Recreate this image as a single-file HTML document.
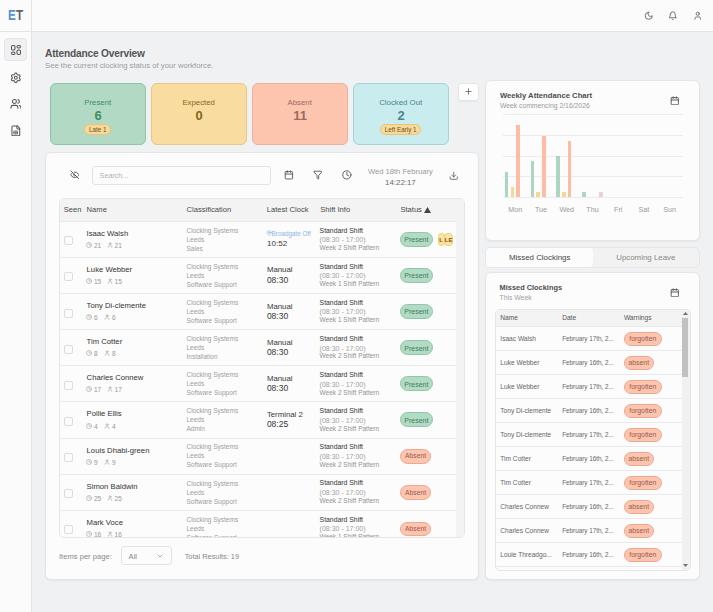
<!DOCTYPE html>
<html><head><meta charset="utf-8"><style>
html,body{margin:0;padding:0;}
body{width:713px;height:612px;overflow:hidden;position:relative;background:#f0f1f3;font-family:"Liberation Sans", sans-serif;}
</style></head><body>
<div style="position:absolute;left:0.00px;top:0.00px;width:713.00px;height:31.00px;background:#fbfbfb;border-bottom:1px solid #e4e4e4;"></div>
<div style="position:absolute;left:0.00px;top:0.00px;width:31.00px;height:612.00px;background:#fbfbfb;border-right:1px solid #e4e4e4;"></div>
<div style="position:absolute;left:0.00px;top:0.00px;width:31.00px;height:31.00px;background:#fbfbfb;border-bottom:1px solid #e4e4e4;border-right:1px solid #e4e4e4;"></div>
<div style="position:absolute;left:8.20px;top:8.24px;font-size:14.6px;line-height:14.6px;font-weight:700;color:#444;letter-spacing:0.3px;white-space:nowrap;"><span style="display:inline-block;transform:scaleX(0.80);transform-origin:0 0"><span style="color:#5690d4">E</span><span style="color:#626262">T</span></span></div>
<div style="position:absolute;left:4.30px;top:38.20px;width:22.40px;height:23.20px;box-sizing:border-box;background:#eff0f2;border:1px solid #e3e4e6;border-radius:4px;"></div>
<svg style="position:absolute;left:9.80px;top:44.00px" width="12" height="12" viewBox="0 0 24 24" fill="none" stroke="#555" stroke-width="2.1" stroke-linecap="round" stroke-linejoin="round"><rect width="7" height="9" x="3" y="3" rx="2.5"/><rect width="7" height="5" x="14" y="3" rx="2.5"/><rect width="7" height="9" x="14" y="12" rx="2.5"/><rect width="7" height="5" x="3" y="16" rx="2.5"/></svg>
<svg style="position:absolute;left:9.70px;top:71.60px" width="11.6" height="11.6" viewBox="0 0 24 24" fill="none" stroke="#555" stroke-width="2.1" stroke-linecap="round" stroke-linejoin="round"><path d="M9.671 4.136a2.34 2.34 0 0 1 4.659 0 2.34 2.34 0 0 0 3.319 1.915 2.34 2.34 0 0 1 2.33 4.033 2.34 2.34 0 0 0 0 3.831 2.34 2.34 0 0 1-2.33 4.033 2.34 2.34 0 0 0-3.319 1.915 2.34 2.34 0 0 1-4.659 0 2.34 2.34 0 0 0-3.32-1.915 2.34 2.34 0 0 1-2.33-4.033 2.34 2.34 0 0 0 0-3.831A2.34 2.34 0 0 1 6.35 6.051a2.34 2.34 0 0 0 3.319-1.915"/><circle cx="12" cy="12" r="3"/></svg>
<svg style="position:absolute;left:9.60px;top:98.00px" width="11.8" height="11.8" viewBox="0 0 24 24" fill="none" stroke="#555" stroke-width="2.1" stroke-linecap="round" stroke-linejoin="round"><path d="M16 21v-2a4 4 0 0 0-4-4H6a4 4 0 0 0-4 4v2"/><circle cx="9" cy="7" r="4"/><path d="M22 21v-2a4 4 0 0 0-3-3.87"/><path d="M16 3.13a4 4 0 0 1 0 7.75"/></svg>
<svg style="position:absolute;left:9.70px;top:124.60px" width="11.7" height="11.7" viewBox="0 0 24 24" fill="none" stroke="#555" stroke-width="2.1" stroke-linecap="round" stroke-linejoin="round"><path d="M15 2H6a2 2 0 0 0-2 2v16a2 2 0 0 0 2 2h12a2 2 0 0 0 2-2V7Z"/><path d="M14 2v4a2 2 0 0 0 2 2h4"/><path d="M8.5 12.5h7v6h-7z" stroke-width="1.4"/><path d="M12 12.5v6M8.5 15.5h7" stroke-width="1.4"/></svg>
<svg style="position:absolute;left:643.65px;top:10.95px" width="9.5" height="9.5" viewBox="0 0 24 24" fill="none" stroke="#555" stroke-width="2" stroke-linecap="round" stroke-linejoin="round"><path d="M12 3a6 6 0 0 0 9 9 9 9 0 1 1-9-9Z"/></svg>
<svg style="position:absolute;left:668.25px;top:10.95px" width="9.5" height="9.5" viewBox="0 0 24 24" fill="none" stroke="#555" stroke-width="2" stroke-linecap="round" stroke-linejoin="round"><path d="M6 8a6 6 0 0 1 12 0c0 7 3 9 3 9H3s3-2 3-9"/><path d="M10.3 21a1.94 1.94 0 0 0 3.4 0"/></svg>
<svg style="position:absolute;left:692.55px;top:10.95px" width="9.5" height="9.5" viewBox="0 0 24 24" fill="none" stroke="#555" stroke-width="2" stroke-linecap="round" stroke-linejoin="round"><path d="M19 21v-2a4 4 0 0 0-4-4H9a4 4 0 0 0-4 4v2"/><circle cx="12" cy="7" r="4"/></svg>
<div style="position:absolute;left:45.00px;top:48.57px;font-size:10.2px;line-height:10.2px;font-weight:700;color:#555;letter-spacing:-0.2px;white-space:nowrap;">Attendance Overview</div>
<div style="position:absolute;left:45.00px;top:62.48px;font-size:7.7px;line-height:7.7px;font-weight:400;color:#9d9d9d;letter-spacing:0px;white-space:nowrap;">See the current clocking status of your workforce.</div>
<div style="position:absolute;left:50.00px;top:83.00px;width:96.00px;height:62.00px;box-sizing:border-box;background:#b2d9c4;border:1px solid #8cc6a6;border-radius:6px;"></div>
<div style="position:absolute;left:-52.30px;width:300px;text-align:center;top:98.70px;font-size:7.8px;line-height:7.8px;font-weight:400;color:#3f8d64;letter-spacing:0px;white-space:nowrap;">Present</div>
<div style="position:absolute;left:-52.30px;width:300px;text-align:center;top:109.94px;font-size:12px;line-height:12px;font-weight:700;color:#3f8d64;letter-spacing:0px;white-space:nowrap;transform:scaleX(1.08);">6</div>
<div style="position:absolute;left:84.20px;top:123.60px;width:27.00px;height:11.80px;box-sizing:border-box;background:#f7d99b;border:1px solid #e9c57a;border-radius:6px;"></div>
<div style="position:absolute;left:-52.30px;width:300px;text-align:center;top:126.67px;font-size:6.3px;line-height:6.3px;font-weight:400;color:#6e5417;letter-spacing:0px;white-space:nowrap;">Late 1</div>
<div style="position:absolute;left:151.00px;top:83.00px;width:96.00px;height:62.00px;box-sizing:border-box;background:#f8dca0;border:1px solid #e8c982;border-radius:6px;"></div>
<div style="position:absolute;left:48.70px;width:300px;text-align:center;top:98.70px;font-size:7.8px;line-height:7.8px;font-weight:400;color:#86661a;letter-spacing:0px;white-space:nowrap;">Expected</div>
<div style="position:absolute;left:48.70px;width:300px;text-align:center;top:109.94px;font-size:12px;line-height:12px;font-weight:700;color:#86661a;letter-spacing:0px;white-space:nowrap;transform:scaleX(1.08);">0</div>
<div style="position:absolute;left:252.00px;top:83.00px;width:96.00px;height:62.00px;box-sizing:border-box;background:#fdc4ae;border:1px solid #ecb09b;border-radius:6px;"></div>
<div style="position:absolute;left:149.70px;width:300px;text-align:center;top:98.70px;font-size:7.8px;line-height:7.8px;font-weight:400;color:#a06a5e;letter-spacing:0px;white-space:nowrap;">Absent</div>
<div style="position:absolute;left:149.70px;width:300px;text-align:center;top:109.94px;font-size:12px;line-height:12px;font-weight:700;color:#a06a5e;letter-spacing:0px;white-space:nowrap;transform:scaleX(1.08);">11</div>
<div style="position:absolute;left:353.00px;top:83.00px;width:96.00px;height:62.00px;box-sizing:border-box;background:#c9ecef;border:1px solid #a2d3d7;border-radius:6px;"></div>
<div style="position:absolute;left:250.70px;width:300px;text-align:center;top:98.70px;font-size:7.8px;line-height:7.8px;font-weight:400;color:#4a878c;letter-spacing:0px;white-space:nowrap;">Clocked Out</div>
<div style="position:absolute;left:250.70px;width:300px;text-align:center;top:109.94px;font-size:12px;line-height:12px;font-weight:700;color:#4a878c;letter-spacing:0px;white-space:nowrap;transform:scaleX(1.08);">2</div>
<div style="position:absolute;left:379.90px;top:123.60px;width:41.60px;height:11.80px;box-sizing:border-box;background:#f7d99b;border:1px solid #e9c57a;border-radius:6px;"></div>
<div style="position:absolute;left:250.70px;width:300px;text-align:center;top:126.67px;font-size:6.3px;line-height:6.3px;font-weight:400;color:#6e5417;letter-spacing:0px;white-space:nowrap;">Left Early 1</div>
<div style="position:absolute;left:458.00px;top:83.00px;width:21.00px;height:18.00px;box-sizing:border-box;background:#fdfdfd;border:1px solid #e6e6e6;border-radius:3px;box-shadow:0 1px 1px rgba(0,0,0,.04);"></div>
<svg style="position:absolute;left:464.00px;top:87.40px" width="9" height="9" viewBox="0 0 24 24" fill="none" stroke="#555" stroke-width="2" stroke-linecap="round" stroke-linejoin="round"><path d="M5 12h14"/><path d="M12 5v14"/></svg>
<div style="position:absolute;left:45.00px;top:152.00px;width:434.00px;height:428.00px;box-sizing:border-box;background:#fcfcfc;border:1px solid #e5e5e5;border-radius:6px;box-shadow:0 1px 2px rgba(0,0,0,.05);"></div>
<svg style="position:absolute;left:69.70px;top:170.20px" width="9.6" height="9.6" viewBox="0 0 24 24" fill="none" stroke="#555" stroke-width="2.2" stroke-linecap="round" stroke-linejoin="round"><path d="M10.733 5.076a10.744 10.744 0 0 1 11.205 6.575 1 1 0 0 1 0 .696 10.747 10.747 0 0 1-1.444 2.49"/><path d="M14.084 14.158a3 3 0 0 1-4.242-4.242"/><path d="M17.479 17.499a10.75 10.75 0 0 1-15.417-5.151 1 1 0 0 1 0-.696 10.75 10.75 0 0 1 4.446-5.143"/><path d="m2 2 20 20"/></svg>
<div style="position:absolute;left:92.00px;top:166.00px;width:179.00px;height:19.00px;box-sizing:border-box;background:#fcfcfc;border:1px solid #e3e3e3;border-radius:3px;"></div>
<div style="position:absolute;left:99.60px;top:172.21px;font-size:7.2px;line-height:7.2px;font-weight:400;color:#b0b0b0;letter-spacing:0px;white-space:nowrap;">Search...</div>
<svg style="position:absolute;left:283.80px;top:170.30px" width="9.8" height="9.8" viewBox="0 0 24 24" fill="none" stroke="#555" stroke-width="2.2" stroke-linecap="round" stroke-linejoin="round"><rect width="18" height="18" x="3" y="4" rx="2" ry="2"/><line x1="16" x2="16" y1="2" y2="6"/><line x1="8" x2="8" y1="2" y2="6"/><line x1="3" x2="21" y1="10" y2="10"/></svg>
<svg style="position:absolute;left:312.50px;top:170.30px" width="9.8" height="9.8" viewBox="0 0 24 24" fill="none" stroke="#555" stroke-width="2.2" stroke-linecap="round" stroke-linejoin="round"><path d="M10 20a1 1 0 0 0 .553.895l2 1A1 1 0 0 0 14 21v-7a2 2 0 0 1 .517-1.341L21.74 4.67A1 1 0 0 0 21 3H3a1 1 0 0 0-.742 1.67l7.225 7.989A2 2 0 0 1 10 14z"/></svg>
<svg style="position:absolute;left:341.90px;top:170.30px" width="9.8" height="9.8" viewBox="0 0 24 24" fill="none" stroke="#555" stroke-width="2.2" stroke-linecap="round" stroke-linejoin="round"><circle cx="12" cy="12" r="10"/><polyline points="12 6 12 12 16 14"/></svg>
<div style="position:absolute;left:250.40px;width:300px;text-align:center;top:168.27px;font-size:7.6px;line-height:7.6px;font-weight:400;color:#999;letter-spacing:0px;white-space:nowrap;">Wed 18th February</div>
<div style="position:absolute;left:250.40px;width:300px;text-align:center;top:178.71px;font-size:7.9px;line-height:7.9px;font-weight:400;color:#6a6a6a;letter-spacing:0px;white-space:nowrap;">14:22:17</div>
<svg style="position:absolute;left:448.75px;top:170.55px" width="9.5" height="9.5" viewBox="0 0 24 24" fill="none" stroke="#555" stroke-width="2" stroke-linecap="round" stroke-linejoin="round"><path d="M21 15v4a2 2 0 0 1-2 2H5a2 2 0 0 1-2-2v-4"/><polyline points="7 10 12 15 17 10"/><line x1="12" x2="12" y1="15" y2="3"/></svg>
<div style="position:absolute;left:59px;top:198px;width:406px;height:340px;box-sizing:border-box;border:1px solid #e6e6e6;border-radius:5px;overflow:hidden;background:#fcfcfc;">
<div style="position:absolute;left:-1.00px;top:-1.00px;width:470.00px;height:23.00px;background:#f3f3f3;"></div>
<div style="position:absolute;left:-1.00px;top:22.00px;width:397.00px;height:1.00px;background:#e8e8e8;"></div>
<div style="position:absolute;left:3.80px;top:7.45px;font-size:7.5px;line-height:7.5px;font-weight:400;color:#4a4a4a;letter-spacing:0px;white-space:nowrap;">Seen</div>
<div style="position:absolute;left:26.60px;top:7.37px;font-size:7.6px;line-height:7.6px;font-weight:400;color:#4a4a4a;letter-spacing:0px;white-space:nowrap;">Name</div>
<div style="position:absolute;left:126.50px;top:7.37px;font-size:7.6px;line-height:7.6px;font-weight:400;color:#4a4a4a;letter-spacing:0px;white-space:nowrap;">Classification</div>
<div style="position:absolute;left:206.80px;top:7.37px;font-size:7.6px;line-height:7.6px;font-weight:400;color:#4a4a4a;letter-spacing:0px;white-space:nowrap;">Latest Clock</div>
<div style="position:absolute;left:260.20px;top:7.37px;font-size:7.6px;line-height:7.6px;font-weight:400;color:#4a4a4a;letter-spacing:0px;white-space:nowrap;">Shift Info</div>
<div style="position:absolute;left:340.40px;top:7.37px;font-size:7.6px;line-height:7.6px;font-weight:400;color:#4a4a4a;letter-spacing:0px;white-space:nowrap;">Status</div>
<svg style="position:absolute;left:363.8px;top:7.5px" width="7" height="6" viewBox="0 0 7 6"><polygon points="3.5,0 7,6 0,6" fill="#444"/></svg>
<div style="position:absolute;left:-1.00px;top:58.00px;width:397.00px;height:1.00px;background:#e9e9e9;"></div>
<div style="position:absolute;left:4.20px;top:37.30px;width:9.00px;height:9.00px;box-sizing:border-box;border:1px solid #dcdcdc;border-radius:2px;background:#fcfcfc;"></div>
<div style="position:absolute;left:26.60px;top:30.68px;font-size:7.7px;line-height:7.7px;font-weight:400;color:#333;letter-spacing:0px;white-space:nowrap;">Isaac Walsh</div>
<svg style="position:absolute;left:26.20px;top:42.90px" width="6" height="6" viewBox="0 0 24 24" fill="none" stroke="#999" stroke-width="2.2" stroke-linecap="round" stroke-linejoin="round"><circle cx="12" cy="12" r="10"/><polyline points="12 6 12 12 16 14"/></svg>
<div style="position:absolute;left:33.90px;top:43.81px;font-size:6.6px;line-height:6.6px;font-weight:400;color:#999;letter-spacing:0px;white-space:nowrap;">21</div>
<svg style="position:absolute;left:46.80px;top:42.90px" width="6" height="6" viewBox="0 0 24 24" fill="none" stroke="#999" stroke-width="2.2" stroke-linecap="round" stroke-linejoin="round"><path d="M19 21v-2a4 4 0 0 0-4-4H9a4 4 0 0 0-4 4v2"/><circle cx="12" cy="7" r="4"/></svg>
<div style="position:absolute;left:54.50px;top:43.81px;font-size:6.6px;line-height:6.6px;font-weight:400;color:#999;letter-spacing:0px;white-space:nowrap;">21</div>
<div style="position:absolute;left:126.50px;top:28.60px;font-size:6.5px;line-height:6.5px;font-weight:400;color:#9c9c9c;letter-spacing:0px;white-space:nowrap;">Clocking Systems</div>
<div style="position:absolute;left:126.50px;top:37.60px;font-size:6.5px;line-height:6.5px;font-weight:400;color:#9c9c9c;letter-spacing:0px;white-space:nowrap;">Leeds</div>
<div style="position:absolute;left:126.50px;top:46.60px;font-size:6.5px;line-height:6.5px;font-weight:400;color:#9c9c9c;letter-spacing:0px;white-space:nowrap;">Sales</div>
<svg style="position:absolute;left:206.30px;top:31.40px" width="6.2" height="6.2" viewBox="0 0 24 24" fill="none" stroke="#8db5e6" stroke-width="2.2" stroke-linecap="round" stroke-linejoin="round"><path d="M20 10c0 6-8 12-8 12s-8-6-8-12a8 8 0 0 1 16 0Z"/><circle cx="12" cy="10" r="3"/></svg>
<div style="position:absolute;left:211.60px;top:31.87px;font-size:6.3px;line-height:6.3px;font-weight:400;color:#8db5e6;letter-spacing:0px;white-space:nowrap;">Broadgate Off</div>
<div style="position:absolute;left:207.10px;top:40.73px;font-size:8.0px;line-height:8.0px;font-weight:400;color:#383838;letter-spacing:0px;white-space:nowrap;">10:52</div>
<div style="position:absolute;left:259.60px;top:28.50px;font-size:6.85px;line-height:6.85px;font-weight:400;color:#333;letter-spacing:0px;white-space:nowrap;">Standard Shift</div>
<div style="position:absolute;left:259.60px;top:37.17px;font-size:7.0px;line-height:7.0px;font-weight:400;color:#a2a2a2;letter-spacing:0px;white-space:nowrap;">(08:30 - 17:00)</div>
<div style="position:absolute;left:259.60px;top:46.00px;font-size:6.5px;line-height:6.5px;font-weight:400;color:#929292;letter-spacing:0px;white-space:nowrap;">Week 2 Shift Pattern</div>
<div style="position:absolute;left:339.80px;top:32.70px;width:33.00px;height:15.00px;box-sizing:border-box;background:#b3dac5;border:1px solid #8fc7a8;border-radius:8px;"></div>
<div style="position:absolute;left:206.30px;width:300px;text-align:center;top:37.17px;font-size:7.0px;line-height:7.0px;font-weight:400;color:#3f7f5c;letter-spacing:0px;white-space:nowrap;">Present</div>
<div style="position:absolute;left:378.00px;top:34.00px;width:6.50px;height:12.70px;box-sizing:border-box;background:#fae4a8;border:1px solid #f2cf62;border-radius:4px;"></div>
<div style="position:absolute;left:231.20px;width:300px;text-align:center;top:37.62px;font-size:6px;line-height:6px;font-weight:700;color:#8b4a14;letter-spacing:0px;white-space:nowrap;">L</div>
<div style="position:absolute;left:384.20px;top:34.00px;width:9.00px;height:12.70px;box-sizing:border-box;background:#fae4a8;border:1px solid #f2cf62;border-radius:4px;"></div>
<div style="position:absolute;left:238.70px;width:300px;text-align:center;top:37.62px;font-size:6px;line-height:6px;font-weight:700;color:#8b4a14;letter-spacing:0px;white-space:nowrap;">LE</div>
<div style="position:absolute;left:-1.00px;top:94.00px;width:397.00px;height:1.00px;background:#e9e9e9;"></div>
<div style="position:absolute;left:4.20px;top:73.44px;width:9.00px;height:9.00px;box-sizing:border-box;border:1px solid #dcdcdc;border-radius:2px;background:#fcfcfc;"></div>
<div style="position:absolute;left:26.60px;top:66.82px;font-size:7.7px;line-height:7.7px;font-weight:400;color:#333;letter-spacing:0px;white-space:nowrap;">Luke Webber</div>
<svg style="position:absolute;left:26.20px;top:79.04px" width="6" height="6" viewBox="0 0 24 24" fill="none" stroke="#999" stroke-width="2.2" stroke-linecap="round" stroke-linejoin="round"><circle cx="12" cy="12" r="10"/><polyline points="12 6 12 12 16 14"/></svg>
<div style="position:absolute;left:33.90px;top:79.95px;font-size:6.6px;line-height:6.6px;font-weight:400;color:#999;letter-spacing:0px;white-space:nowrap;">15</div>
<svg style="position:absolute;left:46.80px;top:79.04px" width="6" height="6" viewBox="0 0 24 24" fill="none" stroke="#999" stroke-width="2.2" stroke-linecap="round" stroke-linejoin="round"><path d="M19 21v-2a4 4 0 0 0-4-4H9a4 4 0 0 0-4 4v2"/><circle cx="12" cy="7" r="4"/></svg>
<div style="position:absolute;left:54.50px;top:79.95px;font-size:6.6px;line-height:6.6px;font-weight:400;color:#999;letter-spacing:0px;white-space:nowrap;">15</div>
<div style="position:absolute;left:126.50px;top:64.74px;font-size:6.5px;line-height:6.5px;font-weight:400;color:#9c9c9c;letter-spacing:0px;white-space:nowrap;">Clocking Systems</div>
<div style="position:absolute;left:126.50px;top:73.74px;font-size:6.5px;line-height:6.5px;font-weight:400;color:#9c9c9c;letter-spacing:0px;white-space:nowrap;">Leeds</div>
<div style="position:absolute;left:126.50px;top:82.74px;font-size:6.5px;line-height:6.5px;font-weight:400;color:#9c9c9c;letter-spacing:0px;white-space:nowrap;">Software Support</div>
<div style="position:absolute;left:206.90px;top:67.44px;font-size:7.8px;line-height:7.8px;font-weight:400;color:#383838;letter-spacing:0px;white-space:nowrap;">Manual</div>
<div style="position:absolute;left:206.90px;top:76.64px;font-size:8.5px;line-height:8.5px;font-weight:400;color:#383838;letter-spacing:0px;white-space:nowrap;">08:30</div>
<div style="position:absolute;left:259.60px;top:64.64px;font-size:6.85px;line-height:6.85px;font-weight:400;color:#333;letter-spacing:0px;white-space:nowrap;">Standard Shift</div>
<div style="position:absolute;left:259.60px;top:73.31px;font-size:7.0px;line-height:7.0px;font-weight:400;color:#a2a2a2;letter-spacing:0px;white-space:nowrap;">(08:30 - 17:00)</div>
<div style="position:absolute;left:259.60px;top:82.14px;font-size:6.5px;line-height:6.5px;font-weight:400;color:#929292;letter-spacing:0px;white-space:nowrap;">Week 1 Shift Pattern</div>
<div style="position:absolute;left:339.80px;top:68.84px;width:33.00px;height:15.00px;box-sizing:border-box;background:#b3dac5;border:1px solid #8fc7a8;border-radius:8px;"></div>
<div style="position:absolute;left:206.30px;width:300px;text-align:center;top:73.31px;font-size:7.0px;line-height:7.0px;font-weight:400;color:#3f7f5c;letter-spacing:0px;white-space:nowrap;">Present</div>
<div style="position:absolute;left:-1.00px;top:130.00px;width:397.00px;height:1.00px;background:#e9e9e9;"></div>
<div style="position:absolute;left:4.20px;top:109.58px;width:9.00px;height:9.00px;box-sizing:border-box;border:1px solid #dcdcdc;border-radius:2px;background:#fcfcfc;"></div>
<div style="position:absolute;left:26.60px;top:102.96px;font-size:7.7px;line-height:7.7px;font-weight:400;color:#333;letter-spacing:0px;white-space:nowrap;">Tony Di-clemente</div>
<svg style="position:absolute;left:26.20px;top:115.18px" width="6" height="6" viewBox="0 0 24 24" fill="none" stroke="#999" stroke-width="2.2" stroke-linecap="round" stroke-linejoin="round"><circle cx="12" cy="12" r="10"/><polyline points="12 6 12 12 16 14"/></svg>
<div style="position:absolute;left:33.90px;top:116.09px;font-size:6.6px;line-height:6.6px;font-weight:400;color:#999;letter-spacing:0px;white-space:nowrap;">6</div>
<svg style="position:absolute;left:44.30px;top:115.18px" width="6" height="6" viewBox="0 0 24 24" fill="none" stroke="#999" stroke-width="2.2" stroke-linecap="round" stroke-linejoin="round"><path d="M19 21v-2a4 4 0 0 0-4-4H9a4 4 0 0 0-4 4v2"/><circle cx="12" cy="7" r="4"/></svg>
<div style="position:absolute;left:52.00px;top:116.09px;font-size:6.6px;line-height:6.6px;font-weight:400;color:#999;letter-spacing:0px;white-space:nowrap;">6</div>
<div style="position:absolute;left:126.50px;top:100.88px;font-size:6.5px;line-height:6.5px;font-weight:400;color:#9c9c9c;letter-spacing:0px;white-space:nowrap;">Clocking Systems</div>
<div style="position:absolute;left:126.50px;top:109.88px;font-size:6.5px;line-height:6.5px;font-weight:400;color:#9c9c9c;letter-spacing:0px;white-space:nowrap;">Leeds</div>
<div style="position:absolute;left:126.50px;top:118.88px;font-size:6.5px;line-height:6.5px;font-weight:400;color:#9c9c9c;letter-spacing:0px;white-space:nowrap;">Software Support</div>
<div style="position:absolute;left:206.90px;top:103.58px;font-size:7.8px;line-height:7.8px;font-weight:400;color:#383838;letter-spacing:0px;white-space:nowrap;">Manual</div>
<div style="position:absolute;left:206.90px;top:112.78px;font-size:8.5px;line-height:8.5px;font-weight:400;color:#383838;letter-spacing:0px;white-space:nowrap;">08:30</div>
<div style="position:absolute;left:259.60px;top:100.78px;font-size:6.85px;line-height:6.85px;font-weight:400;color:#333;letter-spacing:0px;white-space:nowrap;">Standard Shift</div>
<div style="position:absolute;left:259.60px;top:109.45px;font-size:7.0px;line-height:7.0px;font-weight:400;color:#a2a2a2;letter-spacing:0px;white-space:nowrap;">(08:30 - 17:00)</div>
<div style="position:absolute;left:259.60px;top:118.28px;font-size:6.5px;line-height:6.5px;font-weight:400;color:#929292;letter-spacing:0px;white-space:nowrap;">Week 1 Shift Pattern</div>
<div style="position:absolute;left:339.80px;top:104.98px;width:33.00px;height:15.00px;box-sizing:border-box;background:#b3dac5;border:1px solid #8fc7a8;border-radius:8px;"></div>
<div style="position:absolute;left:206.30px;width:300px;text-align:center;top:109.45px;font-size:7.0px;line-height:7.0px;font-weight:400;color:#3f7f5c;letter-spacing:0px;white-space:nowrap;">Present</div>
<div style="position:absolute;left:-1.00px;top:166.00px;width:397.00px;height:1.00px;background:#e9e9e9;"></div>
<div style="position:absolute;left:4.20px;top:145.72px;width:9.00px;height:9.00px;box-sizing:border-box;border:1px solid #dcdcdc;border-radius:2px;background:#fcfcfc;"></div>
<div style="position:absolute;left:26.60px;top:139.10px;font-size:7.7px;line-height:7.7px;font-weight:400;color:#333;letter-spacing:0px;white-space:nowrap;">Tim Cotter</div>
<svg style="position:absolute;left:26.20px;top:151.32px" width="6" height="6" viewBox="0 0 24 24" fill="none" stroke="#999" stroke-width="2.2" stroke-linecap="round" stroke-linejoin="round"><circle cx="12" cy="12" r="10"/><polyline points="12 6 12 12 16 14"/></svg>
<div style="position:absolute;left:33.90px;top:152.23px;font-size:6.6px;line-height:6.6px;font-weight:400;color:#999;letter-spacing:0px;white-space:nowrap;">8</div>
<svg style="position:absolute;left:44.30px;top:151.32px" width="6" height="6" viewBox="0 0 24 24" fill="none" stroke="#999" stroke-width="2.2" stroke-linecap="round" stroke-linejoin="round"><path d="M19 21v-2a4 4 0 0 0-4-4H9a4 4 0 0 0-4 4v2"/><circle cx="12" cy="7" r="4"/></svg>
<div style="position:absolute;left:52.00px;top:152.23px;font-size:6.6px;line-height:6.6px;font-weight:400;color:#999;letter-spacing:0px;white-space:nowrap;">8</div>
<div style="position:absolute;left:126.50px;top:137.02px;font-size:6.5px;line-height:6.5px;font-weight:400;color:#9c9c9c;letter-spacing:0px;white-space:nowrap;">Clocking Systems</div>
<div style="position:absolute;left:126.50px;top:146.02px;font-size:6.5px;line-height:6.5px;font-weight:400;color:#9c9c9c;letter-spacing:0px;white-space:nowrap;">Leeds</div>
<div style="position:absolute;left:126.50px;top:155.02px;font-size:6.5px;line-height:6.5px;font-weight:400;color:#9c9c9c;letter-spacing:0px;white-space:nowrap;">Installation</div>
<div style="position:absolute;left:206.90px;top:139.72px;font-size:7.8px;line-height:7.8px;font-weight:400;color:#383838;letter-spacing:0px;white-space:nowrap;">Manual</div>
<div style="position:absolute;left:206.90px;top:148.92px;font-size:8.5px;line-height:8.5px;font-weight:400;color:#383838;letter-spacing:0px;white-space:nowrap;">08:30</div>
<div style="position:absolute;left:259.60px;top:136.92px;font-size:6.85px;line-height:6.85px;font-weight:400;color:#333;letter-spacing:0px;white-space:nowrap;">Standard Shift</div>
<div style="position:absolute;left:259.60px;top:145.59px;font-size:7.0px;line-height:7.0px;font-weight:400;color:#a2a2a2;letter-spacing:0px;white-space:nowrap;">(08:30 - 17:00)</div>
<div style="position:absolute;left:259.60px;top:154.42px;font-size:6.5px;line-height:6.5px;font-weight:400;color:#929292;letter-spacing:0px;white-space:nowrap;">Week 2 Shift Pattern</div>
<div style="position:absolute;left:339.80px;top:141.12px;width:33.00px;height:15.00px;box-sizing:border-box;background:#b3dac5;border:1px solid #8fc7a8;border-radius:8px;"></div>
<div style="position:absolute;left:206.30px;width:300px;text-align:center;top:145.59px;font-size:7.0px;line-height:7.0px;font-weight:400;color:#3f7f5c;letter-spacing:0px;white-space:nowrap;">Present</div>
<div style="position:absolute;left:-1.00px;top:202.00px;width:397.00px;height:1.00px;background:#e9e9e9;"></div>
<div style="position:absolute;left:4.20px;top:181.86px;width:9.00px;height:9.00px;box-sizing:border-box;border:1px solid #dcdcdc;border-radius:2px;background:#fcfcfc;"></div>
<div style="position:absolute;left:26.60px;top:175.24px;font-size:7.7px;line-height:7.7px;font-weight:400;color:#333;letter-spacing:0px;white-space:nowrap;">Charles Connew</div>
<svg style="position:absolute;left:26.20px;top:187.46px" width="6" height="6" viewBox="0 0 24 24" fill="none" stroke="#999" stroke-width="2.2" stroke-linecap="round" stroke-linejoin="round"><circle cx="12" cy="12" r="10"/><polyline points="12 6 12 12 16 14"/></svg>
<div style="position:absolute;left:33.90px;top:188.37px;font-size:6.6px;line-height:6.6px;font-weight:400;color:#999;letter-spacing:0px;white-space:nowrap;">17</div>
<svg style="position:absolute;left:46.80px;top:187.46px" width="6" height="6" viewBox="0 0 24 24" fill="none" stroke="#999" stroke-width="2.2" stroke-linecap="round" stroke-linejoin="round"><path d="M19 21v-2a4 4 0 0 0-4-4H9a4 4 0 0 0-4 4v2"/><circle cx="12" cy="7" r="4"/></svg>
<div style="position:absolute;left:54.50px;top:188.37px;font-size:6.6px;line-height:6.6px;font-weight:400;color:#999;letter-spacing:0px;white-space:nowrap;">17</div>
<div style="position:absolute;left:126.50px;top:173.16px;font-size:6.5px;line-height:6.5px;font-weight:400;color:#9c9c9c;letter-spacing:0px;white-space:nowrap;">Clocking Systems</div>
<div style="position:absolute;left:126.50px;top:182.16px;font-size:6.5px;line-height:6.5px;font-weight:400;color:#9c9c9c;letter-spacing:0px;white-space:nowrap;">Leeds</div>
<div style="position:absolute;left:126.50px;top:191.16px;font-size:6.5px;line-height:6.5px;font-weight:400;color:#9c9c9c;letter-spacing:0px;white-space:nowrap;">Software Support</div>
<div style="position:absolute;left:206.90px;top:175.86px;font-size:7.8px;line-height:7.8px;font-weight:400;color:#383838;letter-spacing:0px;white-space:nowrap;">Manual</div>
<div style="position:absolute;left:206.90px;top:185.06px;font-size:8.5px;line-height:8.5px;font-weight:400;color:#383838;letter-spacing:0px;white-space:nowrap;">08:30</div>
<div style="position:absolute;left:259.60px;top:173.06px;font-size:6.85px;line-height:6.85px;font-weight:400;color:#333;letter-spacing:0px;white-space:nowrap;">Standard Shift</div>
<div style="position:absolute;left:259.60px;top:181.73px;font-size:7.0px;line-height:7.0px;font-weight:400;color:#a2a2a2;letter-spacing:0px;white-space:nowrap;">(08:30 - 17:00)</div>
<div style="position:absolute;left:259.60px;top:190.56px;font-size:6.5px;line-height:6.5px;font-weight:400;color:#929292;letter-spacing:0px;white-space:nowrap;">Week 2 Shift Pattern</div>
<div style="position:absolute;left:339.80px;top:177.26px;width:33.00px;height:15.00px;box-sizing:border-box;background:#b3dac5;border:1px solid #8fc7a8;border-radius:8px;"></div>
<div style="position:absolute;left:206.30px;width:300px;text-align:center;top:181.73px;font-size:7.0px;line-height:7.0px;font-weight:400;color:#3f7f5c;letter-spacing:0px;white-space:nowrap;">Present</div>
<div style="position:absolute;left:-1.00px;top:239.00px;width:397.00px;height:1.00px;background:#e9e9e9;"></div>
<div style="position:absolute;left:4.20px;top:218.00px;width:9.00px;height:9.00px;box-sizing:border-box;border:1px solid #dcdcdc;border-radius:2px;background:#fcfcfc;"></div>
<div style="position:absolute;left:26.60px;top:211.38px;font-size:7.7px;line-height:7.7px;font-weight:400;color:#333;letter-spacing:0px;white-space:nowrap;">Pollie Ellis</div>
<svg style="position:absolute;left:26.20px;top:223.60px" width="6" height="6" viewBox="0 0 24 24" fill="none" stroke="#999" stroke-width="2.2" stroke-linecap="round" stroke-linejoin="round"><circle cx="12" cy="12" r="10"/><polyline points="12 6 12 12 16 14"/></svg>
<div style="position:absolute;left:33.90px;top:224.51px;font-size:6.6px;line-height:6.6px;font-weight:400;color:#999;letter-spacing:0px;white-space:nowrap;">4</div>
<svg style="position:absolute;left:44.30px;top:223.60px" width="6" height="6" viewBox="0 0 24 24" fill="none" stroke="#999" stroke-width="2.2" stroke-linecap="round" stroke-linejoin="round"><path d="M19 21v-2a4 4 0 0 0-4-4H9a4 4 0 0 0-4 4v2"/><circle cx="12" cy="7" r="4"/></svg>
<div style="position:absolute;left:52.00px;top:224.51px;font-size:6.6px;line-height:6.6px;font-weight:400;color:#999;letter-spacing:0px;white-space:nowrap;">4</div>
<div style="position:absolute;left:126.50px;top:209.30px;font-size:6.5px;line-height:6.5px;font-weight:400;color:#9c9c9c;letter-spacing:0px;white-space:nowrap;">Clocking Systems</div>
<div style="position:absolute;left:126.50px;top:218.30px;font-size:6.5px;line-height:6.5px;font-weight:400;color:#9c9c9c;letter-spacing:0px;white-space:nowrap;">Leeds</div>
<div style="position:absolute;left:126.50px;top:227.30px;font-size:6.5px;line-height:6.5px;font-weight:400;color:#9c9c9c;letter-spacing:0px;white-space:nowrap;">Admin</div>
<div style="position:absolute;left:206.90px;top:212.00px;font-size:7.8px;line-height:7.8px;font-weight:400;color:#383838;letter-spacing:0px;white-space:nowrap;">Terminal 2</div>
<div style="position:absolute;left:206.90px;top:221.20px;font-size:8.5px;line-height:8.5px;font-weight:400;color:#383838;letter-spacing:0px;white-space:nowrap;">08:25</div>
<div style="position:absolute;left:259.60px;top:209.20px;font-size:6.85px;line-height:6.85px;font-weight:400;color:#333;letter-spacing:0px;white-space:nowrap;">Standard Shift</div>
<div style="position:absolute;left:259.60px;top:217.87px;font-size:7.0px;line-height:7.0px;font-weight:400;color:#a2a2a2;letter-spacing:0px;white-space:nowrap;">(08:30 - 17:00)</div>
<div style="position:absolute;left:259.60px;top:226.70px;font-size:6.5px;line-height:6.5px;font-weight:400;color:#929292;letter-spacing:0px;white-space:nowrap;">Week 2 Shift Pattern</div>
<div style="position:absolute;left:339.80px;top:213.40px;width:33.00px;height:15.00px;box-sizing:border-box;background:#b3dac5;border:1px solid #8fc7a8;border-radius:8px;"></div>
<div style="position:absolute;left:206.30px;width:300px;text-align:center;top:217.87px;font-size:7.0px;line-height:7.0px;font-weight:400;color:#3f7f5c;letter-spacing:0px;white-space:nowrap;">Present</div>
<div style="position:absolute;left:-1.00px;top:275.00px;width:397.00px;height:1.00px;background:#e9e9e9;"></div>
<div style="position:absolute;left:4.20px;top:254.14px;width:9.00px;height:9.00px;box-sizing:border-box;border:1px solid #dcdcdc;border-radius:2px;background:#fcfcfc;"></div>
<div style="position:absolute;left:26.60px;top:247.52px;font-size:7.7px;line-height:7.7px;font-weight:400;color:#333;letter-spacing:0px;white-space:nowrap;">Louis Dhabi-green</div>
<svg style="position:absolute;left:26.20px;top:259.74px" width="6" height="6" viewBox="0 0 24 24" fill="none" stroke="#999" stroke-width="2.2" stroke-linecap="round" stroke-linejoin="round"><circle cx="12" cy="12" r="10"/><polyline points="12 6 12 12 16 14"/></svg>
<div style="position:absolute;left:33.90px;top:260.65px;font-size:6.6px;line-height:6.6px;font-weight:400;color:#999;letter-spacing:0px;white-space:nowrap;">9</div>
<svg style="position:absolute;left:44.30px;top:259.74px" width="6" height="6" viewBox="0 0 24 24" fill="none" stroke="#999" stroke-width="2.2" stroke-linecap="round" stroke-linejoin="round"><path d="M19 21v-2a4 4 0 0 0-4-4H9a4 4 0 0 0-4 4v2"/><circle cx="12" cy="7" r="4"/></svg>
<div style="position:absolute;left:52.00px;top:260.65px;font-size:6.6px;line-height:6.6px;font-weight:400;color:#999;letter-spacing:0px;white-space:nowrap;">9</div>
<div style="position:absolute;left:126.50px;top:245.44px;font-size:6.5px;line-height:6.5px;font-weight:400;color:#9c9c9c;letter-spacing:0px;white-space:nowrap;">Clocking Systems</div>
<div style="position:absolute;left:126.50px;top:254.44px;font-size:6.5px;line-height:6.5px;font-weight:400;color:#9c9c9c;letter-spacing:0px;white-space:nowrap;">Leeds</div>
<div style="position:absolute;left:126.50px;top:263.44px;font-size:6.5px;line-height:6.5px;font-weight:400;color:#9c9c9c;letter-spacing:0px;white-space:nowrap;">Software Support</div>
<div style="position:absolute;left:259.60px;top:245.34px;font-size:6.85px;line-height:6.85px;font-weight:400;color:#333;letter-spacing:0px;white-space:nowrap;">Standard Shift</div>
<div style="position:absolute;left:259.60px;top:254.01px;font-size:7.0px;line-height:7.0px;font-weight:400;color:#a2a2a2;letter-spacing:0px;white-space:nowrap;">(08:30 - 17:00)</div>
<div style="position:absolute;left:259.60px;top:262.84px;font-size:6.5px;line-height:6.5px;font-weight:400;color:#929292;letter-spacing:0px;white-space:nowrap;">Week 2 Shift Pattern</div>
<div style="position:absolute;left:339.90px;top:250.34px;width:31.40px;height:14.60px;box-sizing:border-box;background:#fdc4ae;border:1px solid #eda892;border-radius:8px;"></div>
<div style="position:absolute;left:205.60px;width:300px;text-align:center;top:254.48px;font-size:6.8px;line-height:6.8px;font-weight:400;color:#9a5a52;letter-spacing:0px;white-space:nowrap;">Absent</div>
<div style="position:absolute;left:-1.00px;top:311.00px;width:397.00px;height:1.00px;background:#e9e9e9;"></div>
<div style="position:absolute;left:4.20px;top:290.28px;width:9.00px;height:9.00px;box-sizing:border-box;border:1px solid #dcdcdc;border-radius:2px;background:#fcfcfc;"></div>
<div style="position:absolute;left:26.60px;top:283.66px;font-size:7.7px;line-height:7.7px;font-weight:400;color:#333;letter-spacing:0px;white-space:nowrap;">Simon Baldwin</div>
<svg style="position:absolute;left:26.20px;top:295.88px" width="6" height="6" viewBox="0 0 24 24" fill="none" stroke="#999" stroke-width="2.2" stroke-linecap="round" stroke-linejoin="round"><circle cx="12" cy="12" r="10"/><polyline points="12 6 12 12 16 14"/></svg>
<div style="position:absolute;left:33.90px;top:296.79px;font-size:6.6px;line-height:6.6px;font-weight:400;color:#999;letter-spacing:0px;white-space:nowrap;">25</div>
<svg style="position:absolute;left:46.80px;top:295.88px" width="6" height="6" viewBox="0 0 24 24" fill="none" stroke="#999" stroke-width="2.2" stroke-linecap="round" stroke-linejoin="round"><path d="M19 21v-2a4 4 0 0 0-4-4H9a4 4 0 0 0-4 4v2"/><circle cx="12" cy="7" r="4"/></svg>
<div style="position:absolute;left:54.50px;top:296.79px;font-size:6.6px;line-height:6.6px;font-weight:400;color:#999;letter-spacing:0px;white-space:nowrap;">25</div>
<div style="position:absolute;left:126.50px;top:281.58px;font-size:6.5px;line-height:6.5px;font-weight:400;color:#9c9c9c;letter-spacing:0px;white-space:nowrap;">Clocking Systems</div>
<div style="position:absolute;left:126.50px;top:290.58px;font-size:6.5px;line-height:6.5px;font-weight:400;color:#9c9c9c;letter-spacing:0px;white-space:nowrap;">Leeds</div>
<div style="position:absolute;left:126.50px;top:299.58px;font-size:6.5px;line-height:6.5px;font-weight:400;color:#9c9c9c;letter-spacing:0px;white-space:nowrap;">Software Support</div>
<div style="position:absolute;left:259.60px;top:281.48px;font-size:6.85px;line-height:6.85px;font-weight:400;color:#333;letter-spacing:0px;white-space:nowrap;">Standard Shift</div>
<div style="position:absolute;left:259.60px;top:290.15px;font-size:7.0px;line-height:7.0px;font-weight:400;color:#a2a2a2;letter-spacing:0px;white-space:nowrap;">(08:30 - 17:00)</div>
<div style="position:absolute;left:259.60px;top:298.98px;font-size:6.5px;line-height:6.5px;font-weight:400;color:#929292;letter-spacing:0px;white-space:nowrap;">Week 2 Shift Pattern</div>
<div style="position:absolute;left:339.90px;top:286.48px;width:31.40px;height:14.60px;box-sizing:border-box;background:#fdc4ae;border:1px solid #eda892;border-radius:8px;"></div>
<div style="position:absolute;left:205.60px;width:300px;text-align:center;top:290.62px;font-size:6.8px;line-height:6.8px;font-weight:400;color:#9a5a52;letter-spacing:0px;white-space:nowrap;">Absent</div>
<div style="position:absolute;left:-1.00px;top:347.00px;width:397.00px;height:1.00px;background:#e9e9e9;"></div>
<div style="position:absolute;left:4.20px;top:326.42px;width:9.00px;height:9.00px;box-sizing:border-box;border:1px solid #dcdcdc;border-radius:2px;background:#fcfcfc;"></div>
<div style="position:absolute;left:26.60px;top:319.80px;font-size:7.7px;line-height:7.7px;font-weight:400;color:#333;letter-spacing:0px;white-space:nowrap;">Mark Voce</div>
<svg style="position:absolute;left:26.20px;top:332.02px" width="6" height="6" viewBox="0 0 24 24" fill="none" stroke="#999" stroke-width="2.2" stroke-linecap="round" stroke-linejoin="round"><circle cx="12" cy="12" r="10"/><polyline points="12 6 12 12 16 14"/></svg>
<div style="position:absolute;left:33.90px;top:332.93px;font-size:6.6px;line-height:6.6px;font-weight:400;color:#999;letter-spacing:0px;white-space:nowrap;">16</div>
<svg style="position:absolute;left:46.80px;top:332.02px" width="6" height="6" viewBox="0 0 24 24" fill="none" stroke="#999" stroke-width="2.2" stroke-linecap="round" stroke-linejoin="round"><path d="M19 21v-2a4 4 0 0 0-4-4H9a4 4 0 0 0-4 4v2"/><circle cx="12" cy="7" r="4"/></svg>
<div style="position:absolute;left:54.50px;top:332.93px;font-size:6.6px;line-height:6.6px;font-weight:400;color:#999;letter-spacing:0px;white-space:nowrap;">16</div>
<div style="position:absolute;left:126.50px;top:317.72px;font-size:6.5px;line-height:6.5px;font-weight:400;color:#9c9c9c;letter-spacing:0px;white-space:nowrap;">Clocking Systems</div>
<div style="position:absolute;left:126.50px;top:326.72px;font-size:6.5px;line-height:6.5px;font-weight:400;color:#9c9c9c;letter-spacing:0px;white-space:nowrap;">Leeds</div>
<div style="position:absolute;left:126.50px;top:335.72px;font-size:6.5px;line-height:6.5px;font-weight:400;color:#9c9c9c;letter-spacing:0px;white-space:nowrap;">Software Support</div>
<div style="position:absolute;left:259.60px;top:317.62px;font-size:6.85px;line-height:6.85px;font-weight:400;color:#333;letter-spacing:0px;white-space:nowrap;">Standard Shift</div>
<div style="position:absolute;left:259.60px;top:326.29px;font-size:7.0px;line-height:7.0px;font-weight:400;color:#a2a2a2;letter-spacing:0px;white-space:nowrap;">(08:30 - 17:00)</div>
<div style="position:absolute;left:259.60px;top:335.12px;font-size:6.5px;line-height:6.5px;font-weight:400;color:#929292;letter-spacing:0px;white-space:nowrap;">Week 1 Shift Pattern</div>
<div style="position:absolute;left:339.90px;top:322.62px;width:31.40px;height:14.60px;box-sizing:border-box;background:#fdc4ae;border:1px solid #eda892;border-radius:8px;"></div>
<div style="position:absolute;left:205.60px;width:300px;text-align:center;top:326.76px;font-size:6.8px;line-height:6.8px;font-weight:400;color:#9a5a52;letter-spacing:0px;white-space:nowrap;">Absent</div>
<div style="position:absolute;left:396.00px;top:22.00px;width:20.00px;height:400.00px;background:#f3f3f3;"></div>
</div>
<div style="position:absolute;left:59.00px;top:552.87px;font-size:7.6px;line-height:7.6px;font-weight:400;color:#888;letter-spacing:0px;white-space:nowrap;">Items per page:</div>
<div style="position:absolute;left:121.00px;top:546.00px;width:51.00px;height:19.00px;box-sizing:border-box;background:#fcfcfc;border:1px solid #e3e3e3;border-radius:3px;"></div>
<div style="position:absolute;left:128.60px;top:552.87px;font-size:7.6px;line-height:7.6px;font-weight:400;color:#888;letter-spacing:0px;white-space:nowrap;">All</div>
<svg style="position:absolute;left:156.00px;top:552.30px" width="8" height="8" viewBox="0 0 24 24" fill="none" stroke="#888" stroke-width="2" stroke-linecap="round" stroke-linejoin="round"><path d="m6 9 6 6 6-6"/></svg>
<div style="position:absolute;left:184.70px;top:553.08px;font-size:7.35px;line-height:7.35px;font-weight:400;color:#888;letter-spacing:0px;white-space:nowrap;">Total Results: 19</div>
<div style="position:absolute;left:485.00px;top:80.00px;width:215.00px;height:161.00px;box-sizing:border-box;background:#fcfcfc;border:1px solid #e5e5e5;border-radius:6px;box-shadow:0 1px 2px rgba(0,0,0,.05);"></div>
<div style="position:absolute;left:499.90px;top:92.08px;font-size:7.7px;line-height:7.7px;font-weight:700;color:#4d4d4d;letter-spacing:0px;white-space:nowrap;">Weekly Attendance Chart</div>
<div style="position:absolute;left:499.90px;top:102.84px;font-size:6.8px;line-height:6.8px;font-weight:400;color:#9a9a9a;letter-spacing:0px;white-space:nowrap;">Week commencing 2/16/2026</div>
<svg style="position:absolute;left:669.65px;top:95.60px" width="9.6" height="9.6" viewBox="0 0 24 24" fill="none" stroke="#555" stroke-width="2.3" stroke-linecap="round" stroke-linejoin="round"><rect width="18" height="18" x="3" y="4" rx="2" ry="2"/><line x1="16" x2="16" y1="2" y2="6"/><line x1="8" x2="8" y1="2" y2="6"/><line x1="3" x2="21" y1="10" y2="10"/></svg>
<div style="position:absolute;left:502.50px;top:114.00px;width:180.00px;height:1.00px;background:#ebebeb;"></div>
<div style="position:absolute;left:502.50px;top:135.00px;width:180.00px;height:1.00px;background:#ebebeb;"></div>
<div style="position:absolute;left:502.50px;top:156.00px;width:180.00px;height:1.00px;background:#ebebeb;"></div>
<div style="position:absolute;left:502.50px;top:176.00px;width:180.00px;height:1.00px;background:#ebebeb;"></div>
<div style="position:absolute;left:502.50px;top:197.00px;width:180.00px;height:1.00px;background:#ebebeb;"></div>
<div style="position:absolute;left:504.90px;top:171.58px;width:3.60px;height:25.72px;background:#acd6bf;"></div>
<div style="position:absolute;left:510.60px;top:187.01px;width:3.60px;height:10.29px;background:#f6d795;"></div>
<div style="position:absolute;left:516.30px;top:125.29px;width:3.60px;height:72.01px;background:#fcbda4;"></div>
<div style="position:absolute;left:365.36px;width:300px;text-align:center;top:205.71px;font-size:7.2px;line-height:7.2px;font-weight:400;color:#999;letter-spacing:0px;white-space:nowrap;">Mon</div>
<div style="position:absolute;left:530.61px;top:161.29px;width:3.60px;height:36.01px;background:#acd6bf;"></div>
<div style="position:absolute;left:536.31px;top:192.16px;width:3.60px;height:5.14px;background:#f6d795;"></div>
<div style="position:absolute;left:542.01px;top:135.58px;width:3.60px;height:61.72px;background:#fcbda4;"></div>
<div style="position:absolute;left:391.07px;width:300px;text-align:center;top:205.71px;font-size:7.2px;line-height:7.2px;font-weight:400;color:#999;letter-spacing:0px;white-space:nowrap;">Tue</div>
<div style="position:absolute;left:556.33px;top:156.15px;width:3.60px;height:41.15px;background:#acd6bf;"></div>
<div style="position:absolute;left:562.03px;top:192.16px;width:3.60px;height:5.14px;background:#f6d795;"></div>
<div style="position:absolute;left:567.73px;top:140.72px;width:3.60px;height:56.58px;background:#fcbda4;"></div>
<div style="position:absolute;left:416.79px;width:300px;text-align:center;top:205.71px;font-size:7.2px;line-height:7.2px;font-weight:400;color:#999;letter-spacing:0px;white-space:nowrap;">Wed</div>
<div style="position:absolute;left:582.04px;top:192.16px;width:3.60px;height:5.14px;background:#acd6bf;"></div>
<div style="position:absolute;left:599.14px;top:192.16px;width:3.60px;height:5.14px;background:#f0cce0;"></div>
<div style="position:absolute;left:442.50px;width:300px;text-align:center;top:205.71px;font-size:7.2px;line-height:7.2px;font-weight:400;color:#999;letter-spacing:0px;white-space:nowrap;">Thu</div>
<div style="position:absolute;left:468.21px;width:300px;text-align:center;top:205.71px;font-size:7.2px;line-height:7.2px;font-weight:400;color:#999;letter-spacing:0px;white-space:nowrap;">Fri</div>
<div style="position:absolute;left:493.93px;width:300px;text-align:center;top:205.71px;font-size:7.2px;line-height:7.2px;font-weight:400;color:#999;letter-spacing:0px;white-space:nowrap;">Sat</div>
<div style="position:absolute;left:519.64px;width:300px;text-align:center;top:205.71px;font-size:7.2px;line-height:7.2px;font-weight:400;color:#999;letter-spacing:0px;white-space:nowrap;">Sun</div>
<div style="position:absolute;left:485.00px;top:247.00px;width:215.00px;height:21.00px;box-sizing:border-box;background:#f2f2f2;border:1px solid #e6e6e6;border-radius:5px;"></div>
<div style="position:absolute;left:486.00px;top:248.00px;width:106.50px;height:19.00px;background:#fcfcfc;border-radius:4px;"></div>
<div style="position:absolute;left:389.70px;width:300px;text-align:center;top:254.31px;font-size:7.9px;line-height:7.9px;font-weight:400;color:#444;letter-spacing:0px;white-space:nowrap;">Missed Clockings</div>
<div style="position:absolute;left:495.80px;width:300px;text-align:center;top:254.31px;font-size:7.9px;line-height:7.9px;font-weight:400;color:#888;letter-spacing:0px;white-space:nowrap;">Upcoming Leave</div>
<div style="position:absolute;left:485.00px;top:272.00px;width:215.00px;height:308.00px;box-sizing:border-box;background:#fcfcfc;border:1px solid #e5e5e5;border-radius:6px;box-shadow:0 1px 2px rgba(0,0,0,.05);"></div>
<div style="position:absolute;left:499.60px;top:283.64px;font-size:7.4px;line-height:7.4px;font-weight:700;color:#4d4d4d;letter-spacing:0px;white-space:nowrap;">Missed Clockings</div>
<div style="position:absolute;left:499.60px;top:294.64px;font-size:6.8px;line-height:6.8px;font-weight:400;color:#a0a0a0;letter-spacing:0px;white-space:nowrap;">This Week</div>
<svg style="position:absolute;left:669.65px;top:287.80px" width="9.6" height="9.6" viewBox="0 0 24 24" fill="none" stroke="#555" stroke-width="2.3" stroke-linecap="round" stroke-linejoin="round"><rect width="18" height="18" x="3" y="4" rx="2" ry="2"/><line x1="16" x2="16" y1="2" y2="6"/><line x1="8" x2="8" y1="2" y2="6"/><line x1="3" x2="21" y1="10" y2="10"/></svg>
<div style="position:absolute;left:495px;top:309px;width:196px;height:262px;box-sizing:border-box;border:1px solid #e6e6e6;border-radius:5px;overflow:hidden;background:#fcfcfc;">
<div style="position:absolute;left:-1.00px;top:-1.00px;width:187.00px;height:17.00px;background:#f3f3f3;"></div>
<div style="position:absolute;left:-1.00px;top:16.00px;width:187.00px;height:1.00px;background:#e8e8e8;"></div>
<div style="position:absolute;left:4.30px;top:4.91px;font-size:6.6px;line-height:6.6px;font-weight:400;color:#555;letter-spacing:0px;white-space:nowrap;">Name</div>
<div style="position:absolute;left:66.20px;top:4.91px;font-size:6.6px;line-height:6.6px;font-weight:400;color:#555;letter-spacing:0px;white-space:nowrap;">Date</div>
<div style="position:absolute;left:127.90px;top:4.91px;font-size:6.6px;line-height:6.6px;font-weight:400;color:#555;letter-spacing:0px;white-space:nowrap;">Warnings</div>
<div style="position:absolute;left:-1.00px;top:40.00px;width:187.00px;height:1.00px;background:#e9e9e9;"></div>
<div style="position:absolute;left:4.30px;top:26.01px;font-size:6.6px;line-height:6.6px;font-weight:400;color:#666;letter-spacing:0px;white-space:nowrap;">Isaac Walsh</div>
<div style="position:absolute;left:66.20px;top:26.27px;font-size:6.3px;line-height:6.3px;font-weight:400;color:#666;letter-spacing:0px;white-space:nowrap;">February 17th, 2...</div>
<div style="position:absolute;left:128.00px;top:21.70px;width:37.70px;height:14.40px;box-sizing:border-box;background:#fdc4ae;border:1px solid #eda892;border-radius:8px;"></div>
<div style="position:absolute;left:-3.15px;width:300px;text-align:center;top:26.46px;font-size:6.9px;line-height:6.9px;font-weight:400;color:#9a5a52;letter-spacing:0px;white-space:nowrap;">forgotten</div>
<div style="position:absolute;left:-1.00px;top:64.00px;width:187.00px;height:1.00px;background:#e9e9e9;"></div>
<div style="position:absolute;left:4.30px;top:50.01px;font-size:6.6px;line-height:6.6px;font-weight:400;color:#666;letter-spacing:0px;white-space:nowrap;">Luke Webber</div>
<div style="position:absolute;left:66.20px;top:50.27px;font-size:6.3px;line-height:6.3px;font-weight:400;color:#666;letter-spacing:0px;white-space:nowrap;">February 16th, 2...</div>
<div style="position:absolute;left:128.00px;top:45.70px;width:29.50px;height:14.40px;box-sizing:border-box;background:#fdc4ae;border:1px solid #eda892;border-radius:8px;"></div>
<div style="position:absolute;left:-7.25px;width:300px;text-align:center;top:50.46px;font-size:6.9px;line-height:6.9px;font-weight:400;color:#9a5a52;letter-spacing:0px;white-space:nowrap;">absent</div>
<div style="position:absolute;left:-1.00px;top:88.00px;width:187.00px;height:1.00px;background:#e9e9e9;"></div>
<div style="position:absolute;left:4.30px;top:74.01px;font-size:6.6px;line-height:6.6px;font-weight:400;color:#666;letter-spacing:0px;white-space:nowrap;">Luke Webber</div>
<div style="position:absolute;left:66.20px;top:74.27px;font-size:6.3px;line-height:6.3px;font-weight:400;color:#666;letter-spacing:0px;white-space:nowrap;">February 17th, 2...</div>
<div style="position:absolute;left:128.00px;top:69.70px;width:37.70px;height:14.40px;box-sizing:border-box;background:#fdc4ae;border:1px solid #eda892;border-radius:8px;"></div>
<div style="position:absolute;left:-3.15px;width:300px;text-align:center;top:74.46px;font-size:6.9px;line-height:6.9px;font-weight:400;color:#9a5a52;letter-spacing:0px;white-space:nowrap;">forgotten</div>
<div style="position:absolute;left:-1.00px;top:112.00px;width:187.00px;height:1.00px;background:#e9e9e9;"></div>
<div style="position:absolute;left:4.30px;top:98.01px;font-size:6.6px;line-height:6.6px;font-weight:400;color:#666;letter-spacing:0px;white-space:nowrap;">Tony Di-clemente</div>
<div style="position:absolute;left:66.20px;top:98.27px;font-size:6.3px;line-height:6.3px;font-weight:400;color:#666;letter-spacing:0px;white-space:nowrap;">February 16th, 2...</div>
<div style="position:absolute;left:128.00px;top:93.70px;width:37.70px;height:14.40px;box-sizing:border-box;background:#fdc4ae;border:1px solid #eda892;border-radius:8px;"></div>
<div style="position:absolute;left:-3.15px;width:300px;text-align:center;top:98.46px;font-size:6.9px;line-height:6.9px;font-weight:400;color:#9a5a52;letter-spacing:0px;white-space:nowrap;">forgotten</div>
<div style="position:absolute;left:-1.00px;top:136.00px;width:187.00px;height:1.00px;background:#e9e9e9;"></div>
<div style="position:absolute;left:4.30px;top:122.01px;font-size:6.6px;line-height:6.6px;font-weight:400;color:#666;letter-spacing:0px;white-space:nowrap;">Tony Di-clemente</div>
<div style="position:absolute;left:66.20px;top:122.27px;font-size:6.3px;line-height:6.3px;font-weight:400;color:#666;letter-spacing:0px;white-space:nowrap;">February 17th, 2...</div>
<div style="position:absolute;left:128.00px;top:117.70px;width:37.70px;height:14.40px;box-sizing:border-box;background:#fdc4ae;border:1px solid #eda892;border-radius:8px;"></div>
<div style="position:absolute;left:-3.15px;width:300px;text-align:center;top:122.46px;font-size:6.9px;line-height:6.9px;font-weight:400;color:#9a5a52;letter-spacing:0px;white-space:nowrap;">forgotten</div>
<div style="position:absolute;left:-1.00px;top:160.00px;width:187.00px;height:1.00px;background:#e9e9e9;"></div>
<div style="position:absolute;left:4.30px;top:146.01px;font-size:6.6px;line-height:6.6px;font-weight:400;color:#666;letter-spacing:0px;white-space:nowrap;">Tim Cotter</div>
<div style="position:absolute;left:66.20px;top:146.27px;font-size:6.3px;line-height:6.3px;font-weight:400;color:#666;letter-spacing:0px;white-space:nowrap;">February 16th, 2...</div>
<div style="position:absolute;left:128.00px;top:141.70px;width:29.50px;height:14.40px;box-sizing:border-box;background:#fdc4ae;border:1px solid #eda892;border-radius:8px;"></div>
<div style="position:absolute;left:-7.25px;width:300px;text-align:center;top:146.46px;font-size:6.9px;line-height:6.9px;font-weight:400;color:#9a5a52;letter-spacing:0px;white-space:nowrap;">absent</div>
<div style="position:absolute;left:-1.00px;top:184.00px;width:187.00px;height:1.00px;background:#e9e9e9;"></div>
<div style="position:absolute;left:4.30px;top:170.01px;font-size:6.6px;line-height:6.6px;font-weight:400;color:#666;letter-spacing:0px;white-space:nowrap;">Tim Cotter</div>
<div style="position:absolute;left:66.20px;top:170.27px;font-size:6.3px;line-height:6.3px;font-weight:400;color:#666;letter-spacing:0px;white-space:nowrap;">February 17th, 2...</div>
<div style="position:absolute;left:128.00px;top:165.70px;width:37.70px;height:14.40px;box-sizing:border-box;background:#fdc4ae;border:1px solid #eda892;border-radius:8px;"></div>
<div style="position:absolute;left:-3.15px;width:300px;text-align:center;top:170.46px;font-size:6.9px;line-height:6.9px;font-weight:400;color:#9a5a52;letter-spacing:0px;white-space:nowrap;">forgotten</div>
<div style="position:absolute;left:-1.00px;top:208.00px;width:187.00px;height:1.00px;background:#e9e9e9;"></div>
<div style="position:absolute;left:4.30px;top:194.01px;font-size:6.6px;line-height:6.6px;font-weight:400;color:#666;letter-spacing:0px;white-space:nowrap;">Charles Connew</div>
<div style="position:absolute;left:66.20px;top:194.27px;font-size:6.3px;line-height:6.3px;font-weight:400;color:#666;letter-spacing:0px;white-space:nowrap;">February 16th, 2...</div>
<div style="position:absolute;left:128.00px;top:189.70px;width:29.50px;height:14.40px;box-sizing:border-box;background:#fdc4ae;border:1px solid #eda892;border-radius:8px;"></div>
<div style="position:absolute;left:-7.25px;width:300px;text-align:center;top:194.46px;font-size:6.9px;line-height:6.9px;font-weight:400;color:#9a5a52;letter-spacing:0px;white-space:nowrap;">absent</div>
<div style="position:absolute;left:-1.00px;top:232.00px;width:187.00px;height:1.00px;background:#e9e9e9;"></div>
<div style="position:absolute;left:4.30px;top:218.01px;font-size:6.6px;line-height:6.6px;font-weight:400;color:#666;letter-spacing:0px;white-space:nowrap;">Charles Connew</div>
<div style="position:absolute;left:66.20px;top:218.27px;font-size:6.3px;line-height:6.3px;font-weight:400;color:#666;letter-spacing:0px;white-space:nowrap;">February 17th, 2...</div>
<div style="position:absolute;left:128.00px;top:213.70px;width:29.50px;height:14.40px;box-sizing:border-box;background:#fdc4ae;border:1px solid #eda892;border-radius:8px;"></div>
<div style="position:absolute;left:-7.25px;width:300px;text-align:center;top:218.46px;font-size:6.9px;line-height:6.9px;font-weight:400;color:#9a5a52;letter-spacing:0px;white-space:nowrap;">absent</div>
<div style="position:absolute;left:-1.00px;top:256.00px;width:187.00px;height:1.00px;background:#e9e9e9;"></div>
<div style="position:absolute;left:4.30px;top:242.01px;font-size:6.6px;line-height:6.6px;font-weight:400;color:#666;letter-spacing:0px;white-space:nowrap;">Louie Threadgo...</div>
<div style="position:absolute;left:66.20px;top:242.27px;font-size:6.3px;line-height:6.3px;font-weight:400;color:#666;letter-spacing:0px;white-space:nowrap;">February 16th, 2...</div>
<div style="position:absolute;left:128.00px;top:237.70px;width:37.70px;height:14.40px;box-sizing:border-box;background:#fdc4ae;border:1px solid #eda892;border-radius:8px;"></div>
<div style="position:absolute;left:-3.15px;width:300px;text-align:center;top:242.46px;font-size:6.9px;line-height:6.9px;font-weight:400;color:#9a5a52;letter-spacing:0px;white-space:nowrap;">forgotten</div>
<div style="position:absolute;left:-1.00px;top:280.00px;width:187.00px;height:1.00px;background:#e9e9e9;"></div>
<div style="position:absolute;left:4.30px;top:266.01px;font-size:6.6px;line-height:6.6px;font-weight:400;color:#666;letter-spacing:0px;white-space:nowrap;">Louie Threadgold</div>
<div style="position:absolute;left:66.20px;top:266.27px;font-size:6.3px;line-height:6.3px;font-weight:400;color:#666;letter-spacing:0px;white-space:nowrap;">February 17th, 2...</div>
<div style="position:absolute;left:128.00px;top:261.70px;width:37.70px;height:14.40px;box-sizing:border-box;background:#fdc4ae;border:1px solid #eda892;border-radius:8px;"></div>
<div style="position:absolute;left:-3.15px;width:300px;text-align:center;top:266.46px;font-size:6.9px;line-height:6.9px;font-weight:400;color:#9a5a52;letter-spacing:0px;white-space:nowrap;">forgotten</div>
<div style="position:absolute;left:186.00px;top:-1.00px;width:10.00px;height:262.00px;background:#f1f1f1;"></div>
<div style="position:absolute;left:186.00px;top:8.30px;width:6.00px;height:58.90px;background:#c1c1c1;"></div>
<svg style="position:absolute;left:186.5px;top:1.8000000000000114px" width="5" height="3" viewBox="0 0 5 3"><polygon points="2.5,0 5,3 0,3" fill="#707070"/></svg>
<svg style="position:absolute;left:186.5px;top:253.5px" width="5" height="3" viewBox="0 0 5 3"><polygon points="0,0 5,0 2.5,3" fill="#707070"/></svg>
</div>
</body></html>
